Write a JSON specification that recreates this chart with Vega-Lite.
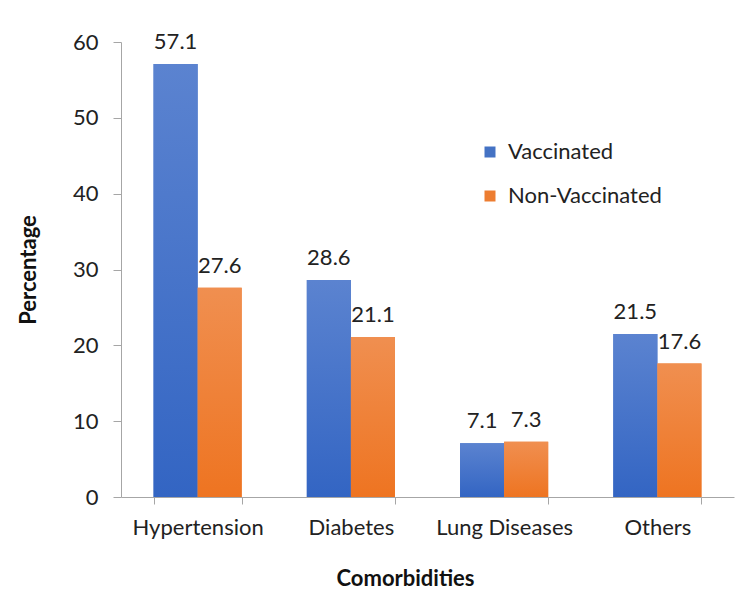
{
  "$schema": "https://vega.github.io/schema/vega-lite/v6.json",
  "autosize": {"type": "none"},
  "padding": {"left": 121, "top": 42, "right": 16, "bottom": 113},
  "width": 613,
  "height": 455,
  "background": "white",
  "config": {
    "view": {"stroke": null},
    "font": "Lato",
    "axis": {"labelFont": "Lato", "titleFont": "Lato", "labelColor": "#222222", "titleColor": "#111111"}
  },
  "data": {
    "values": [
      {"category": "Hypertension", "group": "Vaccinated", "value": 57.1},
      {"category": "Hypertension", "group": "Non-Vaccinated", "value": 27.6},
      {"category": "Diabetes", "group": "Vaccinated", "value": 28.6},
      {"category": "Diabetes", "group": "Non-Vaccinated", "value": 21.1},
      {"category": "Lung Diseases", "group": "Vaccinated", "value": 7.1},
      {"category": "Lung Diseases", "group": "Non-Vaccinated", "value": 7.3},
      {"category": "Others", "group": "Vaccinated", "value": 21.5},
      {"category": "Others", "group": "Non-Vaccinated", "value": 17.6}
    ]
  },
  "encoding": {
    "x": {
      "field": "category", "type": "nominal", "sort": null,
      "scale": {"paddingInner": 0.425, "paddingOuter": 0.2125},
      "axis": {
        "title": "Comorbidities", "labelAngle": 0, "tickBand": "extent",
        "domainColor": "#A6A6A6", "tickColor": "#A6A6A6", "tickSize": 7,
        "labelFontSize": 22, "labelPadding": 13,
        "titleFontSize": 22, "titleFontWeight": "bold", "titlePadding": 30, "titleX": 284
      }
    },
    "xOffset": {"field": "group", "type": "nominal", "scale": {"domain": ["Vaccinated", "Non-Vaccinated"], "paddingInner": 0, "paddingOuter": 0}},
    "y": {
      "field": "value", "type": "quantitative",
      "scale": {"domain": [0, 60], "nice": false},
      "axis": {
        "title": "Percentage", "values": [0, 10, 20, 30, 40, 50, 60], "grid": false,
        "domainColor": "#A6A6A6", "tickColor": "#A6A6A6", "tickSize": 8,
        "labelFontSize": 22, "labelPadding": 15,
        "titleFontSize": 22, "titleFontWeight": "bold", "titlePadding": 32
      }
    }
  },
  "layer": [
    {
      "mark": {"type": "bar"},
      "encoding": {
        "color": {
          "field": "group", "type": "nominal",
          "scale": {"domain": ["Vaccinated", "Non-Vaccinated"], "range": ["#4472C4", "#ED7D31"]},
          "legend": {
            "title": null, "orient": "none", "legendX": 358, "legendY": 99,
            "symbolType": "square", "symbolSize": 121, "symbolStrokeWidth": 0,
            "labelFontSize": 22, "labelFont": "Lato", "labelColor": "#222222",
            "rowPadding": 22, "labelOffset": 7, "padding": 0
          }
        }
      }
    },
    {
      "transform": [{"filter": "datum.group === 'Vaccinated'"}],
      "mark": {
        "type": "bar",
        "color": {"gradient": "linear", "x1": 0, "y1": 0, "x2": 0, "y2": 1,
          "stops": [{"offset": 0, "color": "#5B83D0"}, {"offset": 1, "color": "#3365C3"}]}
      }
    },
    {
      "transform": [{"filter": "datum.group === 'Non-Vaccinated'"}],
      "mark": {
        "type": "bar",
        "color": {"gradient": "linear", "x1": 0, "y1": 0, "x2": 0, "y2": 1,
          "stops": [{"offset": 0, "color": "#F08F50"}, {"offset": 1, "color": "#EE7421"}]}
      }
    },
    {
      "mark": {"type": "text", "baseline": "alphabetic", "dy": -15, "fontSize": 22, "font": "Lato", "color": "#222222"},
      "encoding": {"text": {"field": "value", "type": "quantitative", "format": ".1f"}}
    }
  ]
}
